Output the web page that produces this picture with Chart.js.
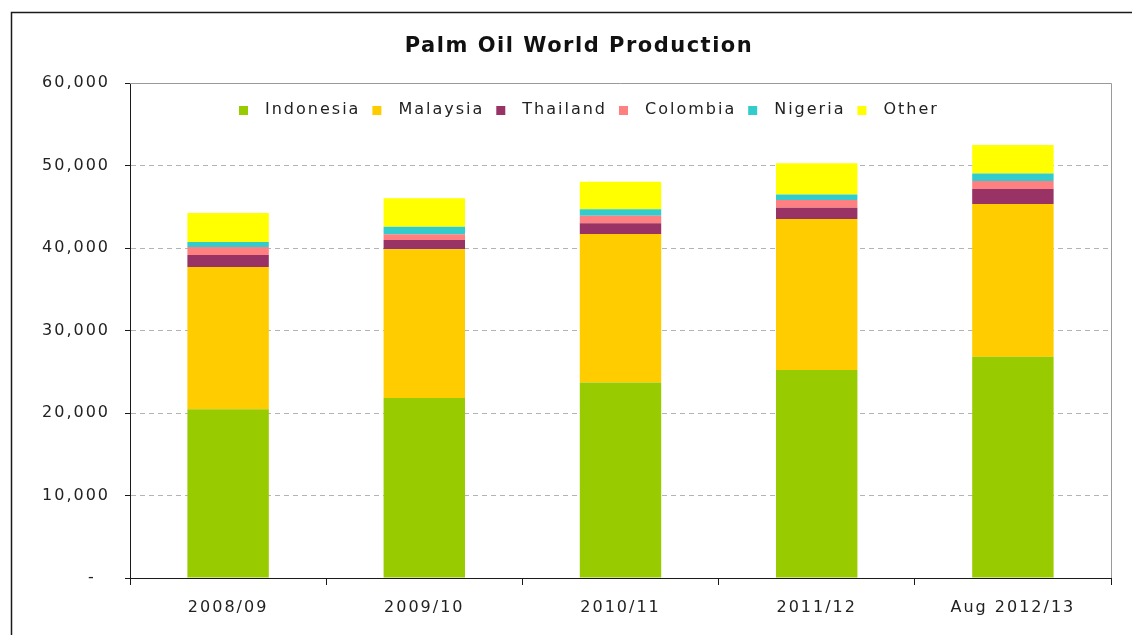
<!DOCTYPE html>
<html lang="en">

<head>
    <meta charset="UTF-8">
    <title>Palm Oil World Production</title>
    <script src="https://cdn.jsdelivr.net/npm/chart.js"></script>
    <style>
        body { margin: 0; background: #fff; }
        canvas { display: block; }
    </style>
</head>

<body>
    <canvas id="palmChart" width="1132" height="635"></canvas>
    <script>
        // Production by season, thousand tonnes
        const seasons = ['2008/09', '2009/10', '2010/11', '2011/12', 'Aug 2012/13'];
        const indonesia = [20450, 21820, 23700, 25200, 26820];
        const malaysia = [17250, 18020, 18000, 18320, 18500];
        const thailand = [1450, 1130, 1300, 1360, 1820];
        const colombia = [970, 690, 920, 940, 970];
        const nigeria = [610, 920, 770, 680, 930];
        const other = [3510, 3440, 3350, 3770, 3430];

        const yTicks = [0, 10000, 20000, 30000, 40000, 50000, 60000];

        const FONT = 'DejaVu Sans';
        const SPACING = '2px';

        // letter spacing has to be set again whenever the context gets reset
        const spacingPlugin = {
            id: 'spacing',
            beforeLayout(chart) { chart.ctx.letterSpacing = SPACING; },
            beforeDraw(chart) { chart.ctx.letterSpacing = SPACING; }
        };

        // frame, plot outline, title and the legend inside the plot
        const decorPlugin = {
            id: 'decor',
            afterDraw(chart) {
                const ctx = chart.ctx;
                const area = chart.chartArea;
                ctx.save();

                // outer frame
                ctx.strokeStyle = '#1a1a1a';
                ctx.lineWidth = 1.5;
                ctx.beginPath();
                ctx.moveTo(11.5, 635);
                ctx.lineTo(11.5, 12.5);
                ctx.lineTo(1132, 12.5);
                ctx.stroke();

                // grey top and right edges of the plot
                ctx.strokeStyle = '#9a9a9a';
                ctx.lineWidth = 1;
                ctx.beginPath();
                ctx.moveTo(area.left, area.top + 0.5);
                ctx.lineTo(area.right + 0.5, area.top + 0.5);
                ctx.lineTo(area.right + 0.5, area.bottom);
                ctx.stroke();

                // title
                ctx.letterSpacing = '1.5px';
                ctx.fillStyle = '#111';
                ctx.font = 'bold 21px "' + FONT + '"';
                ctx.textAlign = 'center';
                ctx.textBaseline = 'middle';
                ctx.fillText('Palm Oil World Production', 579, 47);

                // legend
                ctx.letterSpacing = SPACING;
                ctx.font = '16px "' + FONT + '"';
                ctx.textAlign = 'left';
                let x = 239;
                const y = 110;
                chart.data.datasets.forEach(ds => {
                    ctx.fillStyle = ds.backgroundColor;
                    ctx.fillRect(x, y - 4, 9, 9);
                    ctx.fillStyle = '#222';
                    ctx.fillText(ds.label, x + 26, y);
                    x += 26 + ctx.measureText(ds.label).width + 12;
                });

                ctx.restore();
            }
        };

        const ctx = document.getElementById('palmChart').getContext('2d');
        new Chart(ctx, {
            type: 'bar',
            data: {
                labels: seasons,
                datasets: [
                    { label: 'Indonesia', data: indonesia, backgroundColor: '#99cc00' },
                    { label: 'Malaysia', data: malaysia, backgroundColor: '#ffcc00' },
                    { label: 'Thailand', data: thailand, backgroundColor: '#993366' },
                    { label: 'Colombia', data: colombia, backgroundColor: '#ff8080' },
                    { label: 'Nigeria', data: nigeria, backgroundColor: '#33cccc' },
                    { label: 'Other', data: other, backgroundColor: '#ffff00' }
                ]
            },
            options: {
                responsive: false,
                animation: false,
                layout: { padding: { top: 83, right: 21, bottom: 0, left: 0 } },
                datasets: {
                    bar: { categoryPercentage: 1, barPercentage: 0.415, borderWidth: 0 }
                },
                scales: {
                    x: {
                        stacked: true,
                        afterFit: scale => { scale.height = 57; },
                        grid: {
                            offset: true,
                            drawOnChartArea: false,
                            tickLength: 7,
                            tickColor: '#1a1a1a'
                        },
                        border: { color: '#1a1a1a', width: 1 },
                        ticks: {
                            color: '#222',
                            padding: 13,
                            maxRotation: 0,
                            font: { family: FONT, size: 16 }
                        }
                    },
                    y: {
                        stacked: true,
                        min: 0,
                        max: 60000,
                        afterFit: scale => { scale.width = 130; },
                        afterBuildTicks: scale => {
                            scale.ticks = yTicks.map(v => ({ value: v }));
                        },
                        grid: {
                            color: c => (c.tick && (c.tick.value === 0 || c.tick.value === 60000)) ? 'rgba(0,0,0,0)' : '#b4b4b4',
                            tickLength: 5,
                            tickColor: '#1a1a1a'
                        },
                        border: { color: '#1a1a1a', width: 1, dash: [5, 4] },
                        ticks: {
                            color: '#222',
                            padding: 15,
                            font: { family: FONT, size: 16 },
                            callback: v => v === 0 ? '-  ' : v.toLocaleString('en-US')
                        }
                    }
                },
                plugins: {
                    legend: { display: false },
                    title: { display: false },
                    tooltip: { enabled: false }
                }
            },
            plugins: [spacingPlugin, decorPlugin]
        });
    </script>
</body>

</html>
